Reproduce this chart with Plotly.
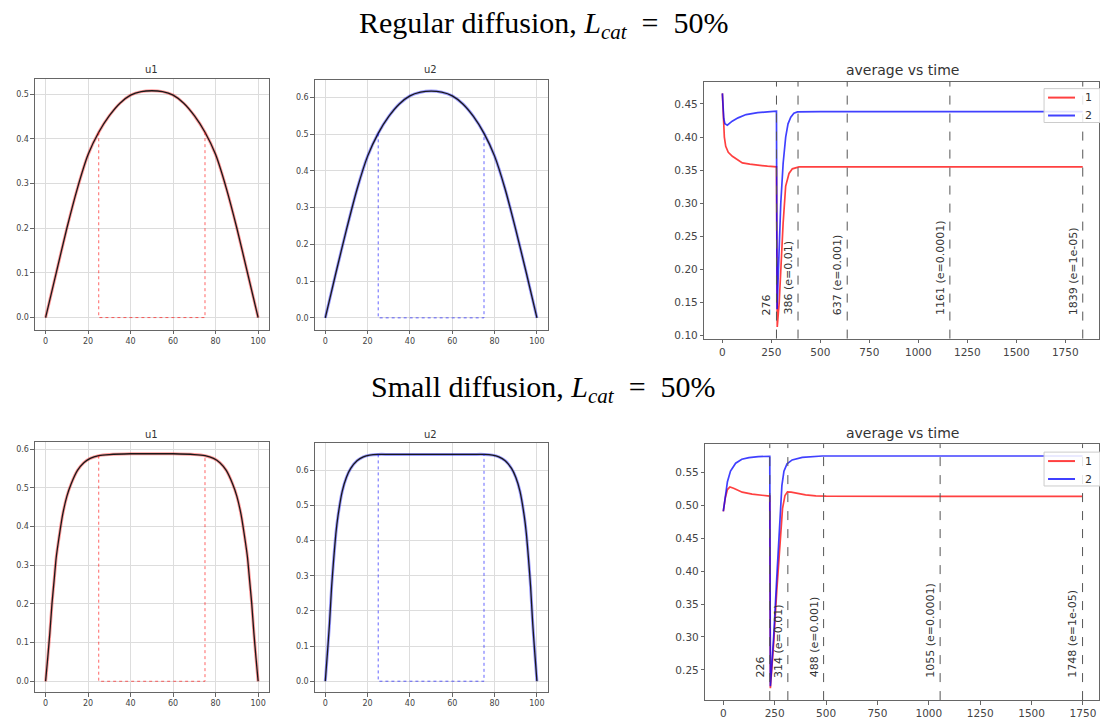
import plotly.graph_objects as go

# ---------------- data ----------------
x_reg = [0, 5, 10, 15, 20, 25, 30, 35, 40, 45, 50, 55, 60, 65, 70, 75, 80, 85, 90, 95, 100]
u1_reg = [0, 0.100, 0.200, 0.290, 0.365, 0.415, 0.452, 0.480, 0.498, 0.506, 0.508,
          0.506, 0.498, 0.480, 0.452, 0.415, 0.365, 0.290, 0.200, 0.100, 0]
u2_reg = [0, 0.122, 0.240, 0.350, 0.440, 0.502, 0.548, 0.582, 0.604, 0.614, 0.617,
          0.614, 0.604, 0.582, 0.548, 0.502, 0.440, 0.350, 0.240, 0.122, 0]

x_small = [0, 1, 2, 3, 4, 5, 6, 8, 10, 12, 15, 18, 21, 25, 30, 40, 50, 60, 70, 75,
           79, 82, 85, 88, 90, 92, 94, 95, 96, 97, 98, 99, 100]
u1_small = [0, 0.06, 0.125, 0.20, 0.26, 0.32, 0.36, 0.43, 0.478, 0.51, 0.545, 0.565, 0.576,
            0.583, 0.586, 0.588, 0.588, 0.588, 0.586, 0.583, 0.576, 0.565, 0.545, 0.51,
            0.478, 0.43, 0.36, 0.32, 0.26, 0.20, 0.125, 0.06, 0]
u2_small = [0, 0.08, 0.165, 0.27, 0.35, 0.42, 0.47, 0.54, 0.58, 0.605, 0.627, 0.638, 0.643,
            0.645, 0.645, 0.645, 0.645, 0.645, 0.645, 0.645, 0.643, 0.638, 0.627, 0.605,
            0.58, 0.54, 0.47, 0.42, 0.35, 0.27, 0.165, 0.08, 0]

# catalyst window (dotted)
cat_x = [25, 25, 75, 75]

# average vs time, regular diffusion
t_reg1 = [0, 3, 6, 10, 17, 30, 51, 80, 102, 140, 187, 230, 276, 280, 290, 298, 310, 323,
          340, 357, 391, 500, 1000, 1500, 1839]
avg1_reg = [0.466, 0.435, 0.415, 0.400, 0.386, 0.377, 0.371, 0.365, 0.361, 0.359, 0.357,
            0.356, 0.355, 0.113, 0.150, 0.200, 0.270, 0.326, 0.345, 0.352, 0.355, 0.355,
            0.355, 0.355, 0.355]
t_reg2 = [0, 3, 7, 13, 25, 50, 80, 121, 180, 230, 276, 279, 285, 292, 298, 310, 323, 335,
          349, 365, 383, 500, 1000, 1500, 1839]
avg2_reg = [0.466, 0.445, 0.428, 0.420, 0.418, 0.424, 0.429, 0.434, 0.437, 0.438, 0.439,
            0.140, 0.200, 0.260, 0.300, 0.360, 0.400, 0.420, 0.430, 0.436, 0.438, 0.4385,
            0.4385, 0.4385, 0.4385]
marks_reg = [276, 386, 637, 1161, 1839]
labels_reg = ["276", "386 (e=0.01)", "637 (e=0.001)", "1161 (e=0.0001)", "1839 (e=1e-05)"]

# average vs time, small diffusion
t_sm1 = [0, 10, 20, 32, 50, 92, 140, 173, 226, 229, 245, 260, 275, 288, 300, 312, 330,
         360, 400, 450, 500, 1000, 1500, 1748]
avg1_sm = [0.491, 0.512, 0.524, 0.528, 0.526, 0.520, 0.517, 0.516, 0.514, 0.222, 0.290,
           0.370, 0.440, 0.495, 0.515, 0.5205, 0.520, 0.518, 0.516, 0.5145, 0.514, 0.5135,
           0.5135, 0.5135]
t_sm2 = [0, 10, 20, 35, 60, 90, 125, 170, 226, 229, 245, 260, 275, 285, 295, 310, 335,
         384, 481, 1000, 1500, 1748]
avg2_sm = [0.491, 0.515, 0.536, 0.552, 0.564, 0.570, 0.5726, 0.574, 0.5746, 0.225, 0.300,
           0.390, 0.480, 0.530, 0.552, 0.563, 0.569, 0.573, 0.575, 0.575, 0.575, 0.575]
marks_sm = [226, 314, 488, 1055, 1748]
labels_sm = ["226", "314 (e=0.01)", "488 (e=0.001)", "1055 (e=0.0001)", "1748 (e=1e-05)"]

series_names = ["1", "2"]
u_xticks = [0, 20, 40, 60, 80, 100]
t_ticks = [0, 250, 500, 750, 1000, 1250, 1500, 1750]

# ---------------- layout helpers ----------------
W, H = 1100, 722


def dx(a, b):
    return [a / W, b / W]


def dy(top, bottom):
    return [1 - bottom / H, 1 - top / H]


TICKFONT = "DejaVu Sans"
RED = "rgba(255,0,0,0.75)"
BLUE = "rgba(0,0,255,0.75)"

fig = go.Figure()


def interp(xs, ys, xv):
    for i in range(len(xs) - 1):
        if xs[i] <= xv <= xs[i + 1]:
            f = (xv - xs[i]) / (xs[i + 1] - xs[i])
            return ys[i] + f * (ys[i + 1] - ys[i])
    return 0


def u_panel(ax, xs, ys, col):
    xa, ya = "x" + ax, "y" + ax
    fig.add_trace(go.Scatter(x=xs, y=ys, mode="lines", xaxis=xa, yaxis=ya,
                             line=dict(color=col, width=3, shape="spline", smoothing=0.6),
                             opacity=0.4, showlegend=False, hoverinfo="skip"))
    fig.add_trace(go.Scatter(x=xs, y=ys, mode="lines", xaxis=xa, yaxis=ya,
                             line=dict(color="#1a1a1a", width=1.3, shape="spline", smoothing=0.6),
                             showlegend=False, hoverinfo="skip"))
    cy = [interp(xs, ys, cat_x[0]), 0, 0, interp(xs, ys, cat_x[3])]
    fig.add_trace(go.Scatter(x=cat_x, y=cy, mode="lines", xaxis=xa, yaxis=ya,
                             line=dict(color=col, width=1, dash="dot"), opacity=0.6,
                             showlegend=False, hoverinfo="skip"))


u_panel("", x_reg, u1_reg, "red")
u_panel("2", x_reg, u2_reg, "blue")
u_panel("4", x_small, u1_small, "red")
u_panel("5", x_small, u2_small, "blue")


def avg_panel(ax, t1, v1, t2, v2):
    xa, ya = "x" + ax, "y" + ax
    fig.add_trace(go.Scatter(x=t1, y=v1, mode="lines", name=series_names[0], xaxis=xa, yaxis=ya,
                             line=dict(color=RED, width=1.7), showlegend=False))
    fig.add_trace(go.Scatter(x=t2, y=v2, mode="lines", name=series_names[1], xaxis=xa, yaxis=ya,
                             line=dict(color=BLUE, width=1.7), showlegend=False))


avg_panel("3", t_reg1, avg1_reg, t_reg2, avg2_reg)
avg_panel("6", t_sm1, avg1_sm, t_sm2, avg2_sm)

annotations = []
shapes = []

# vertical dashed markers + labels
for ax, marks, labels, ylab in (("3", marks_reg, labels_reg, 0.128),
                                ("6", marks_sm, labels_sm, 0.235)):
    for m, lab in zip(marks, labels):
        shapes.append(dict(type="line", xref="x" + ax, yref="y" + ax + " domain",
                           x0=m, x1=m, y0=0, y1=1,
                           line=dict(color="#555555", width=1, dash="dash")))
        annotations.append(dict(x=m, y=ylab, xref="x" + ax, yref="y" + ax, text=lab,
                                textangle=-90, xanchor="right", yanchor="bottom",
                                xshift=-1, showarrow=False,
                                font=dict(family=TICKFONT, size=11, color="#333333")))

# legends (corner of each average panel, cropped by the page edge like the original)
for top in (89, 454):
    shapes.append(dict(type="rect", xref="paper", yref="paper",
                       x0=1045 / W, x1=1.01, y0=1 - (top + 34) / H, y1=1 - top / H,
                       line=dict(color="#cccccc", width=1), fillcolor="rgba(255,255,255,0.85)",
                       layer="above"))
    for k, (name, col) in enumerate(zip(series_names, [RED, BLUE])):
        yy = 1 - (top + 9 + 18 * k) / H
        shapes.append(dict(type="line", xref="paper", yref="paper",
                           x0=1049 / W, x1=1076 / W, y0=yy, y1=yy,
                           line=dict(color=col, width=2), layer="above"))
        annotations.append(dict(x=1084 / W, y=yy, xref="paper", yref="paper", text=name,
                                xanchor="left", yanchor="middle", showarrow=False,
                                font=dict(family=TICKFONT, size=11, color="#333333")))

# subplot titles
for txt, cx, cy, sz in (("u1", 152, 70, 10), ("u2", 431, 70, 10), ("average vs time", 903, 70, 14),
                        ("u1", 152, 436, 10), ("u2", 431, 436, 10), ("average vs time", 903, 435, 14)):
    annotations.append(dict(x=cx / W, y=1 - cy / H, xref="paper", yref="paper", text=txt,
                            xanchor="center", yanchor="middle", showarrow=False,
                            font=dict(family=TICKFONT, size=sz, color="#333333")))

# headings
for txt, cy in (("Regular diffusion, <i>L</i><sub><i>cat</i></sub>&#160;&#160;=&#160;&#160;50%", 25),
                ("Small diffusion, <i>L</i><sub><i>cat</i></sub>&#160;&#160;=&#160;&#160;50%", 391)):
    annotations.append(dict(x=544 / W, y=1 - cy / H, xref="paper", yref="paper", text=txt,
                            xanchor="center", yanchor="middle", showarrow=False,
                            font=dict(family="Liberation Serif", size=30, color="black")))


def axis_style(size, grid):
    return dict(showline=True, mirror=True, linecolor="#666666", linewidth=1,
                ticks="outside", ticklen=3.5, tickcolor="#666666", tickwidth=1,
                tickfont=dict(family=TICKFONT, size=size, color="#444444"),
                zeroline=False, showgrid=grid, gridcolor="#dddddd", gridwidth=1)


layout_axes = {}
specs = [
    ("", dx(35, 269), dy(79, 331), [-5, 105], [-0.027, 0.535], u_xticks, ".1f", 8, True),
    ("2", dx(315, 548), dy(80, 331), [-5, 105], [-0.032, 0.648], u_xticks, ".1f", 8, True),
    ("3", dx(705, 1100), dy(82, 340), [-92, 1922], [0.0955, 0.4837], t_ticks, ".2f", 10.5, False),
    ("4", dx(35, 269), dy(444, 695), [-5, 105], [-0.028, 0.618], u_xticks, ".1f", 8, True),
    ("5", dx(315, 548), dy(445, 695), [-5, 105], [-0.031, 0.677], u_xticks, ".1f", 8, True),
    ("6", dx(706, 1100), dy(446, 703), [-87.4, 1828], [0.204, 0.593], t_ticks, ".2f", 10.5, False),
]
for ax, xd, yd, xr, yr, xt, yfmt, fs, grid in specs:
    xa = axis_style(fs, grid)
    xa.update(domain=xd, range=xr, tickvals=xt, anchor="y" + ax)
    ya = axis_style(fs, grid)
    ya.update(domain=yd, range=yr, tickformat=yfmt, anchor="x" + ax,
              dtick=0.1 if yfmt == ".1f" else 0.05)
    layout_axes["xaxis" + ax] = xa
    layout_axes["yaxis" + ax] = ya

fig.update_layout(
    width=W, height=H,
    margin=dict(l=0, r=0, t=0, b=0),
    paper_bgcolor="white", plot_bgcolor="white",
    showlegend=False,
    annotations=annotations, shapes=shapes,
    **layout_axes,
)

# remove the browser's default page margin so the figure sits at the window's top-left corner
fig.write_html("out.html",
               config={"displayModeBar": False},
               post_script="document.body.style.margin='0';document.body.style.overflow='hidden';")
